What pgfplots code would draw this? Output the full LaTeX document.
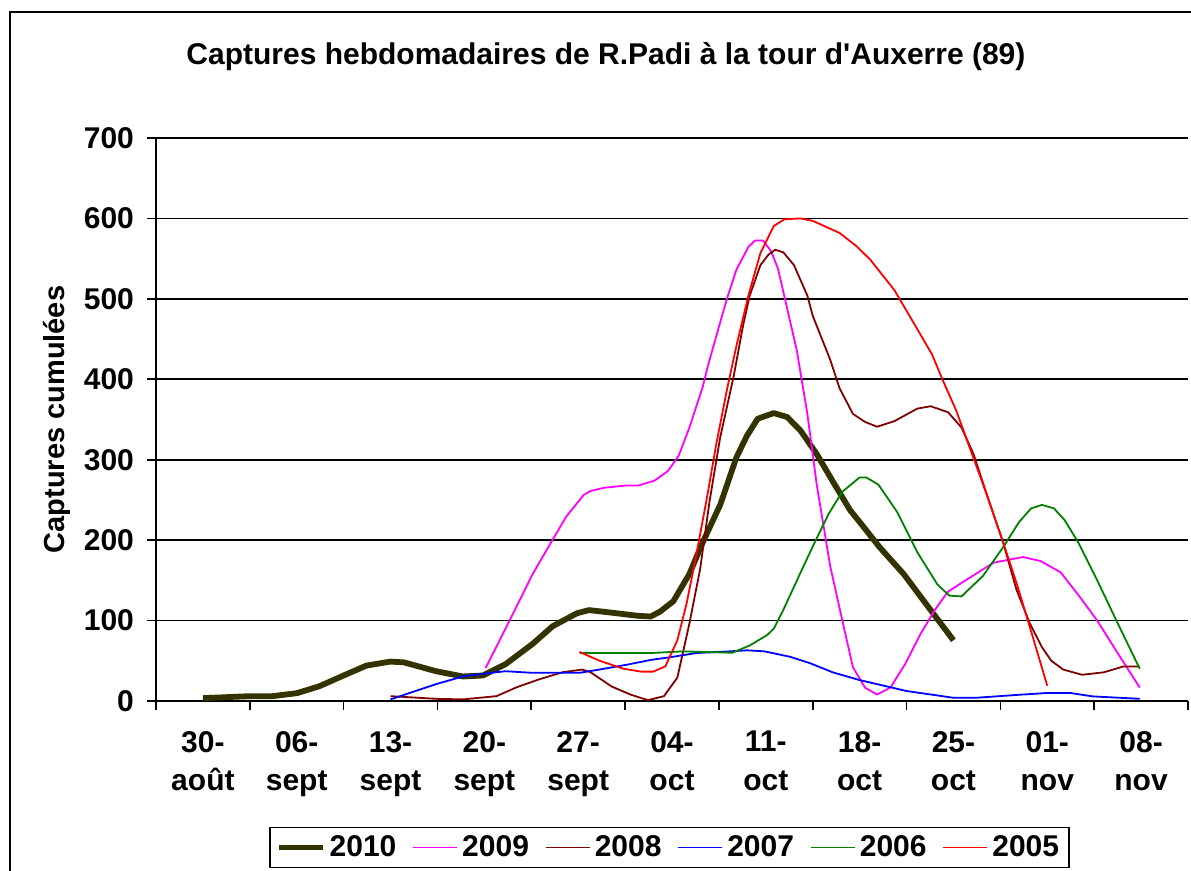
\documentclass[border=0pt]{standalone}
\usepackage{pgfplots}
\pgfplotsset{compat=1.18}
\usepackage{fontspec}
\setmainfont{Liberation Sans}
\definecolor{c2010}{RGB}{51,51,0}
\definecolor{c2009}{RGB}{255,0,255}
\definecolor{c2008}{RGB}{128,0,0}
\definecolor{c2007}{RGB}{0,0,255}
\definecolor{c2006}{RGB}{0,128,0}
\definecolor{c2005}{RGB}{255,0,0}
\begin{document}
\begin{tikzpicture}
\begin{axis}[
  at={(0,0)}, anchor=south west,
  scale only axis, width=516pt, height=281.5pt,
  xmin=-3.5, xmax=73.5, ymin=0, ymax=700,
  axis x line*=bottom, axis y line*=left,
  axis line style={-, black, line width=0.9pt},
  xtick={-3.5,3.5,10.5,17.5,24.5,31.5,38.5,45.5,52.5,59.5,66.5,73.5},
  x tick label as interval,
  xticklabels={30-\\août,06-\\sept,13-\\sept,20-\\sept,27-\\sept,04-\\oct,11-\\oct,18-\\oct,25-\\oct,01-\\nov,08-\\nov},
  ytick={0,100,200,300,400,500,600,700},
  tick align=outside, major tick length=4.5pt,
  tick style={black, line width=0.8pt},
  ymajorgrids, major grid style={black, line width=0.8pt},
  /pgf/number format/assume math mode=true,
  tick label style={font=\bfseries\fontsize{15}{19.2}\selectfont},
  xticklabel style={align=center, yshift=-7pt},
  yticklabel style={xshift=-3pt},
  title={Captures hebdomadaires de R.Padi à la tour d\textquotesingle Auxerre (89)},
  title style={at={(axis description cs:0.436,1.124)}, anchor=center, font=\bfseries\fontsize{15}{18}\selectfont},
  ylabel={Captures cumulées},
  ylabel style={at={(axis description cs:-0.0959,0.5)}, anchor=center, rotate=0, font=\bfseries\fontsize{14.5}{18}\selectfont},
  legend image code/.code={\draw[#1] (0pt,0pt) -- (22pt,0pt);},
  legend style={at={(axis description cs:0.4976,-0.2602)}, anchor=center, legend columns=-1, draw=black, line width=0.8pt,
    font=\bfseries\fontsize{15}{18}\selectfont,
    /tikz/every even column/.append style={column sep=6pt}},
]
\addplot[c2010, line width=2.9pt, line join=round] coordinates {
(0,3.5) (3.5,6) (5.2,6) (7,9.7) (8.7,18.4) (10.5,31.7) (12.2,44) (14,49) (15,48) (17.4,37) (19.4,30.5) (20.9,31.7) (22.6,46) (24.6,71) (26.1,93) (27.9,109) (28.8,113) (30.4,110) (32.4,106) (33.4,105) (34.1,111) (35.1,124) (36.3,158) (37.3,197.5) (38.6,244) (39.8,302.6) (40.6,330) (41.4,351) (42.6,358) (43.6,353) (44.6,336) (45.8,307) (47.0,273) (48.3,237) (49.0,222.6) (50.5,191) (52.3,157.6) (54.3,113) (56.0,75.5)
};
\addlegendentry{2010}
\addplot[c2009, line width=0.9pt, line join=round] coordinates {
(21.1,41) (22.9,100.7) (24.6,157.6) (25.9,195) (27.1,229) (28.4,256) (28.9,261) (29.9,265) (31.6,268) (32.5,268) (33.7,274) (34.7,286) (35.5,305) (36.3,340) (37.3,391) (37.7,418) (38.6,471) (39.1,500) (39.8,536) (40.7,564.5) (41.2,572.5) (41.8,572.5) (42.4,559) (42.9,538) (43.4,502) (44.3,437) (45.1,357) (45.8,269) (46.8,168) (47.7,100.7) (48.5,42) (49.4,16.7) (50.3,8) (51.3,16.7) (52.4,46) (53.5,82) (54.6,113) (55.6,136) (57.0,151) (59.0,172) (61.2,179) (62.5,174) (64.0,160) (65.4,130) (66.7,100.7) (68.2,61) (69.9,16.7)
};
\addlegendentry{2009}
\addplot[c2008, line width=0.9pt, line join=round] coordinates {
(14,6) (17.4,2.7) (19.4,2) (21.9,6) (23.4,17) (25.1,27) (26.9,36) (28.3,39) (28.9,36) (30.5,18) (31.9,8) (33.2,1) (34.4,6) (35.4,29) (35.8,59) (36.3,96.5) (37.1,164) (37.8,248) (38.6,328) (39.6,403.5) (40.3,466.5) (40.8,504) (41.6,542) (42.2,555) (42.7,561) (43.3,558) (44.1,542) (45.1,504) (45.5,479) (46.8,424.5) (47.5,389) (48.5,357) (49.4,347) (50.3,341) (51.6,348) (53.3,363.5) (54.3,366.5) (55.6,359) (56.6,340) (57.5,307) (58.5,256) (59.7,197.5) (60.7,138.5) (61.7,96.5) (62.6,67) (63.3,50) (64.2,39) (65.6,32.6) (67.2,35.6) (68.7,43) (69.9,43)
};
\addlegendentry{2008}
\addplot[c2007, line width=0.9pt, line join=round] coordinates {
(14,2) (17.4,21) (19.4,30.5) (20.9,34) (22.6,37) (24.6,35) (28.1,35) (29.9,40) (31.6,45) (33.4,51) (34.9,54.5) (36.8,59.6) (39.3,61.7) (40.6,63) (41.9,61.7) (43.8,55) (45.3,47) (47.0,35.6) (49.0,26) (52.5,12.4) (56.0,4) (57.7,4) (60.7,7.5) (63.0,10) (64.7,10) (66.4,5.7) (69.9,2.7)
};
\addlegendentry{2007}
\addplot[c2006, line width=0.9pt, line join=round] coordinates {
(28.1,59.6) (33.4,59.6) (35.8,61.7) (39.5,60) (40.8,69) (42.1,82) (42.6,90) (43.3,113) (44.6,160) (45.7,199) (46.7,233) (47.7,260) (49.0,278) (49.5,278) (50.4,269) (51.8,235) (53.3,185) (54.8,145) (55.7,131) (56.6,130) (58.2,155.5) (59.7,191) (60.9,222.6) (61.8,239.5) (62.6,243.8) (63.5,239.5) (64.3,224.8) (65.3,197.5) (66.7,151) (68.2,98.6) (69.9,40)
};
\addlegendentry{2006}
\addplot[c2005, line width=0.9pt, line join=round] coordinates {
(28.1,61) (29.6,50) (31.4,40) (32.7,36.5) (33.6,36.5) (34.5,43) (35.4,75.5) (36.1,122) (36.8,180.6) (37.6,252) (38.3,319) (39.1,387) (39.8,441) (40.7,504) (41.6,557) (42.6,590.7) (43.4,599) (44.6,600) (45.5,597) (47.5,582) (48.8,565) (49.8,548.6) (51.6,510.7) (53.0,471) (54.4,431) (55.2,399) (56.2,361.4) (57.3,311) (58.5,256) (59.7,197.5) (60.7,147) (61.7,92) (63.0,19)
};
\addlegendentry{2005}
\end{axis}
\draw[black, line width=0.8pt] (-73pt,-120pt) rectangle (620pt,344.5pt);
\pgfresetboundingbox
\useasboundingbox (-78pt,-85pt) rectangle (517.5pt,350.5pt);
\end{tikzpicture}
\end{document}
